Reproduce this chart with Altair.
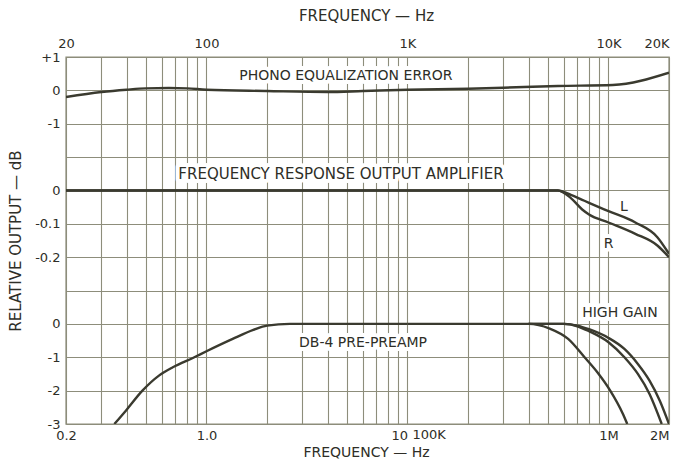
import altair as alt
import pandas as pd

FONT = "DejaVu Sans"
INK = "#2e2e27"
GRID = "#8d8d7b"
CURVE = "#3a3a2f"

# ---------------- axes / ticks ----------------
grid_hz = [20, 30, 40, 50, 60, 70, 80, 90,
           100, 200, 300, 400, 500, 600, 700, 800, 900,
           1000, 2000, 3000, 4000, 5000, 6000, 7000, 8000, 9000,
           10000, 20000]
top_tick_values = [20, 100, 1000, 10000, 20000]
top_tick_labels = ["20", "100", "1K", "10K", "20K"]
bottom_tick_values = [20, 100, 1000, 10000, 20000]
bottom_tick_labels = ["0.2", "1.0", "10", "1M", "2M"]
break_position = [1000]
break_label = ["100K"]

row_values = list(range(12))
row_labels = ["-3", "-2", "-1", "0", "", "-0.2", "-0.1", "0", "", "-1", "0", "+1"]

# ---------------- data ----------------
# Phono equalization error (dB) vs frequency (Hz)
phono_hz = [20, 30, 40, 50, 65, 80, 100, 200, 400, 600, 1000, 2000, 3000, 5600, 10500, 20000]
phono_db = [-0.2, -0.05, 0.02, 0.06, 0.07, 0.06, 0.02, -0.02, -0.05, -0.02, 0.02, 0.05, 0.08, 0.13, 0.16, 0.53]

# Output amplifier frequency response (dB)
amp_hz = [20, 1000, 5600, 6500, 7400, 8000, 10000, 13600, 17500, 20000]
amp_l_db = [0, 0, 0, -0.013, -0.028, -0.037, -0.062, -0.096, -0.14, -0.19]
amp_r_db = [0, 0, 0, -0.023, -0.057, -0.072, -0.096, -0.13, -0.165, -0.2]

# DB-4 pre-preamp, low-frequency part (Hz, 0.2 .. 10 Hz scale)
pre_low_hz = [0.348, 0.397, 0.48, 0.58, 0.68, 0.87, 1.0, 1.35, 1.71, 2.0, 2.6, 4.0, 10.0]
pre_low_db = [-3.0, -2.6, -2.0, -1.55, -1.3, -1.0, -0.82, -0.45, -0.18, -0.05, 0.0, 0.0, 0.0]
# DB-4 pre-preamp, high-frequency part (Hz, 100 kHz .. 2 MHz scale)
pre_hz = [1e5, 2e5, 4e5, 5.1e5, 6.3e5, 7.6e5, 8.8e5, 1.02e6, 1.18e6, 1.24e6]
pre_db = [0, 0, 0, -0.14, -0.45, -1.0, -1.45, -2.0, -2.7, -3.0]
hg1_hz = [4e5, 6e5, 7e5, 8e5, 1.0e6, 1.2e6, 1.4e6, 1.6e6, 1.84e6]
hg1_db = [0, 0, -0.07, -0.22, -0.55, -1.0, -1.5, -2.1, -3.0]
hg2_hz = [4e5, 6e5, 7e5, 8e5, 1.0e6, 1.2e6, 1.4e6, 1.6e6, 1.8e6, 2.0e6]
hg2_db = [0, 0, -0.05, -0.16, -0.42, -0.75, -1.2, -1.7, -2.3, -3.0]

# annotations
annot_text = ["PHONO EQUALIZATION ERROR", "FREQUENCY RESPONSE  OUTPUT AMPLIFIER",
              "L", "R", "HIGH GAIN", "DB-4 PRE-PREAMP"]
annot_hz = [494, 467, 11940, 10000, 11400, 601]
annot_row = [10.42, 7.5, 6.51, 5.4, 3.34, 2.44]
annot_size = [14, 15, 14, 14, 14, 14]

# panel placement on the shared row grid: row = base + db * gain
PHONO_BASE, PHONO_GAIN = 10, 1
AMP_BASE, AMP_GAIN = 7, 10
PRE_BASE, PRE_GAIN = 3, 1
LOW_SHIFT, HIGH_SHIFT = 100.0, 1 / 100.0   # bottom scale -> top scale position


def rows(series, xs, dbs, base, gain, shift=1.0):
    return [{"series": series, "x": x * shift, "row": base + d * gain, "i": k}
            for k, (x, d) in enumerate(zip(xs, dbs))]


recs = []
recs += rows("phono", phono_hz, phono_db, PHONO_BASE, PHONO_GAIN)
recs += rows("amp_L", amp_hz, amp_l_db, AMP_BASE, AMP_GAIN)
recs += rows("amp_R", amp_hz, amp_r_db, AMP_BASE, AMP_GAIN)
recs += rows("pre_low", pre_low_hz, pre_low_db, PRE_BASE, PRE_GAIN, LOW_SHIFT)
recs += rows("pre", pre_hz, pre_db, PRE_BASE, PRE_GAIN, HIGH_SHIFT)
recs += rows("hg1", hg1_hz, hg1_db, PRE_BASE, PRE_GAIN, HIGH_SHIFT)
recs += rows("hg2", hg2_hz, hg2_db, PRE_BASE, PRE_GAIN, HIGH_SHIFT)
curves = pd.DataFrame(recs)

annots = pd.DataFrame({"text": annot_text, "x": annot_hz, "row": annot_row, "fs": annot_size})
brk = pd.DataFrame({"text": break_label, "x": break_position, "row": [0]})


def ternary(values, labels):
    expr = "''"
    for v, l in reversed(list(zip(values, labels))):
        expr = f"datum.value == {v} ? '{l}' : ({expr})"
    return expr


x_scale = alt.Scale(type="log", domain=[20, 20000], nice=False)
y_scale = alt.Scale(domain=[0, 11], nice=False, zero=False)

common_label = dict(labelFont=FONT, labelFontSize=13, labelColor=INK,
                    titleFont=FONT, titleFontSize=15, titleFontWeight="normal",
                    titleColor=INK, domain=False, ticks=False, labelOverlap=False)

top_axis = alt.Axis(orient="top", values=grid_hz,
                    labelExpr=ternary(top_tick_values, top_tick_labels),
                    labelAlign={"condition": {"test": "datum.value == 20000", "value": "right"},
                                "value": "center"},
                    grid=True, gridColor=GRID, gridWidth=1.1, gridOpacity=1,
                    labelPadding=7, title="FREQUENCY — Hz",
                    titleX=300, titleY=-42, titleBaseline="middle", titleAlign="center",
                    **common_label)
left_axis = alt.Axis(orient="left", values=row_values,
                     labelExpr="[" + ",".join(f"'{l}'" for l in row_labels) + "][datum.value]",
                     grid=True, gridColor=GRID, gridWidth=1.1, gridOpacity=1,
                     labelPadding=6, title="RELATIVE OUTPUT — dB",
                     titleX=-51, titleY=183.5, titleBaseline="middle", titleAlign="center",
                     titleAngle=270, **common_label)
bottom_common = dict(common_label)
bottom_common["titleFontSize"] = 14
bottom_axis = alt.Axis(orient="bottom", values=bottom_tick_values,
                       labelExpr=ternary(bottom_tick_values, bottom_tick_labels),
                       labelAlign={"condition": {"test": "datum.value == 1000 || datum.value == 20000",
                                                 "value": "right"},
                                   "value": "center"},
                       grid=False, labelPadding=5, labelBaseline="top",
                       title="FREQUENCY — Hz",
                       titleX=300, titleY=28, titleBaseline="middle", titleAlign="center",
                       **bottom_common)

lines = alt.Chart(curves).mark_line(color=CURVE, strokeWidth=2.4, interpolate="monotone",
                                    clip=True).encode(
    x=alt.X("x:Q", scale=x_scale, axis=top_axis),
    y=alt.Y("row:Q", scale=y_scale, axis=left_axis),
    detail="series:N",
    order="i:Q",
)

halo = alt.Chart(annots).mark_text(font=FONT, fill="white", stroke="white", strokeWidth=8,
                                   strokeJoin="round", baseline="middle").encode(
    x=alt.X("x:Q", scale=x_scale, axis=None),
    y=alt.Y("row:Q", scale=y_scale, axis=None),
    text="text:N",
    size=alt.Size("fs:Q", scale=None),
)

labels = alt.Chart(annots).mark_text(font=FONT, color=INK, baseline="middle").encode(
    x=alt.X("x:Q", scale=x_scale, axis=bottom_axis),
    y=alt.Y("row:Q", scale=y_scale, axis=None),
    text="text:N",
    size=alt.Size("fs:Q", scale=None),
)

brk_label = alt.Chart(brk).mark_text(font=FONT, fontSize=13, color=INK, align="left",
                                     baseline="top", dx=5, dy=5).encode(
    x=alt.X("x:Q", scale=x_scale, axis=None),
    y=alt.Y("row:Q", scale=y_scale, axis=None),
    text="text:N",
)

chart = alt.layer(halo, lines, labels, brk_label).resolve_axis(
    x="independent", y="independent"
).properties(
    width=603, height=367,
    autosize=alt.AutoSizeParams(type="none"),
    padding={"left": 58, "top": 49, "right": 7, "bottom": 36},
    background="white",
).configure_view(stroke=GRID, strokeWidth=1.4)

chart.save("out.html", embed_options={"renderer": "svg", "actions": False})
